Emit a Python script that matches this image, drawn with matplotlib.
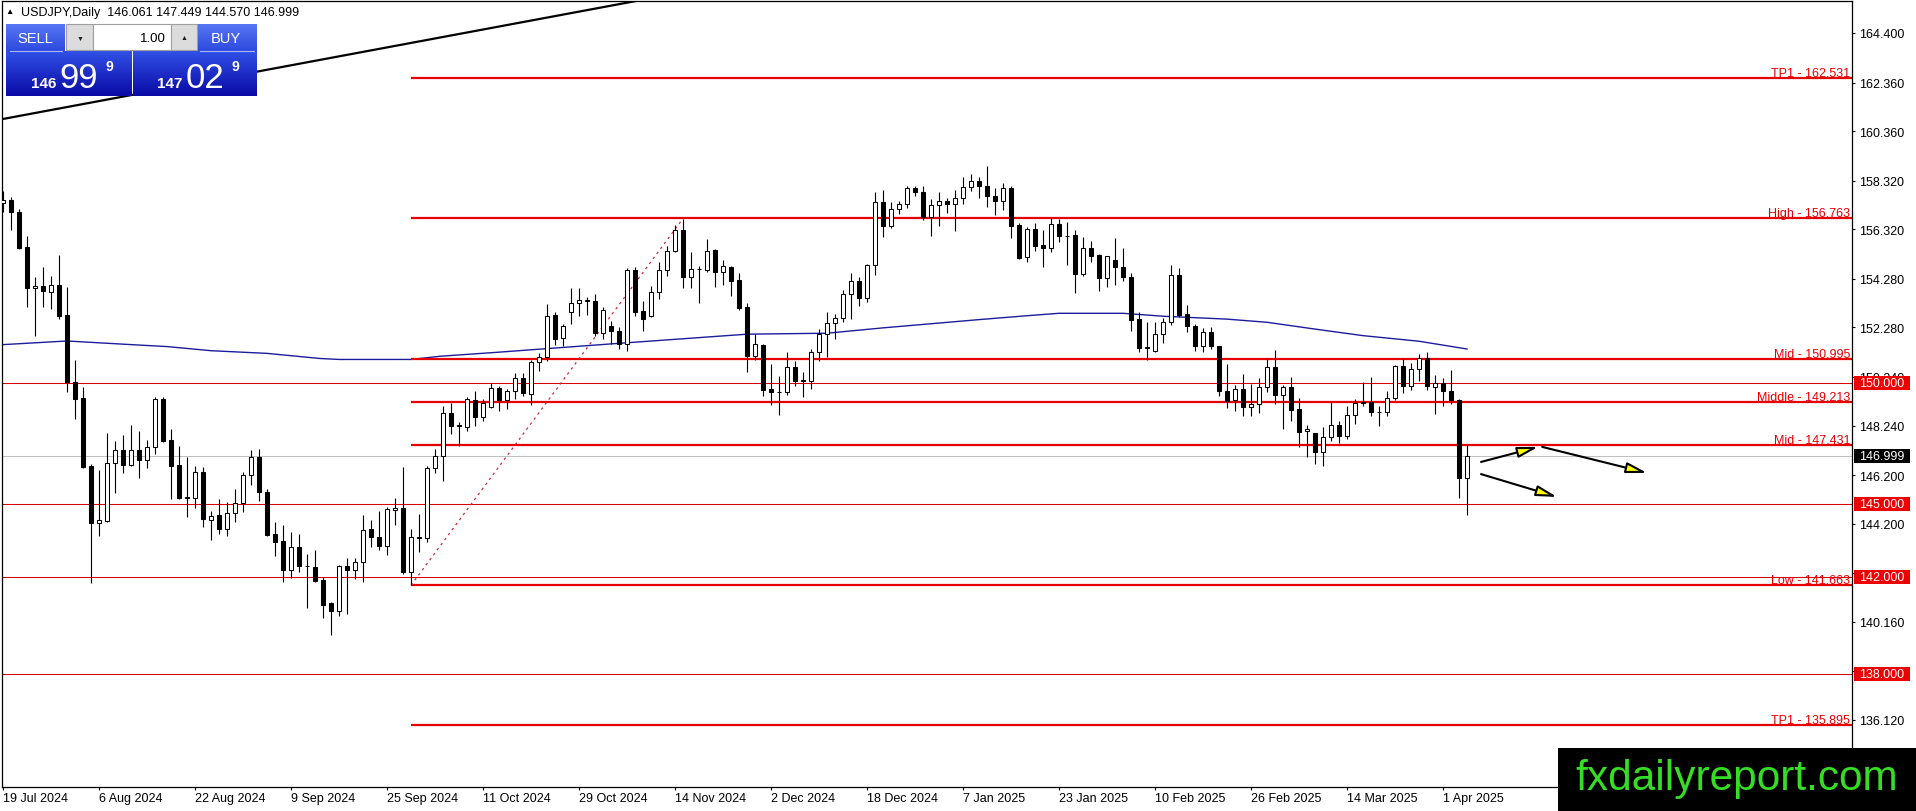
import numpy as np
import matplotlib
matplotlib.use('Agg')
import matplotlib.pyplot as plt
import matplotlib.colors as mcolors
from matplotlib.patches import Rectangle
from matplotlib.lines import Line2D

plt.rcParams['font.family'] = ['Liberation Sans', 'DejaVu Sans']

W, H = 1916, 812

# daily bars 19 Jul 2024 .. 4 Apr 2025
opens = [157.40, 157.52, 157.04, 155.59, 153.89, 153.98, 153.73, 154.03, 152.79, 150.03,
         149.37, 146.59, 144.22, 144.32, 146.69, 147.25, 146.63, 147.22, 146.83, 147.34,
         149.33, 147.64, 146.62, 145.28, 145.24, 146.31, 144.34, 144.55, 143.96, 144.63,
         145.04, 146.20, 146.93, 145.49, 143.77, 143.49, 142.30, 143.23, 142.45, 142.40,
         141.88, 140.92, 140.62, 142.44, 142.30, 142.63, 143.98, 143.64, 143.26, 144.78,
         144.83, 142.22, 143.62, 143.60, 146.48, 146.97, 148.74, 148.26, 148.17, 149.30,
         148.58, 149.02, 149.78, 149.30, 149.65, 150.21, 149.54, 150.84, 151.05, 152.79,
         151.84, 152.93, 153.27, 153.38, 153.35, 152.04, 152.33, 152.14, 151.60, 154.64,
         152.94, 152.74, 153.73, 154.64, 155.44, 156.29, 154.34, 154.68, 154.66, 155.47,
         154.55, 154.78, 154.23, 153.11, 151.12, 151.56, 149.74, 149.61, 149.61, 150.64,
         150.13, 150.06, 151.25, 152.00, 152.46, 152.65, 153.65, 154.18, 153.49, 154.85,
         157.43, 156.44, 157.15, 157.36, 158.01, 157.84, 156.84, 157.32, 157.50, 157.35,
         157.60, 158.05, 158.32, 158.11, 157.70, 157.50, 158.01, 156.50, 155.17, 156.33,
         155.67, 155.54, 156.54, 156.03, 156.08, 154.48, 155.55, 155.26, 154.30, 155.07,
         154.78, 154.37, 152.63, 151.46, 151.32, 152.00, 152.49, 154.44, 152.83, 152.35,
         151.50, 152.08, 151.50, 149.68, 149.30, 149.74, 149.02, 149.13, 149.81, 150.64,
         149.50, 149.81, 148.92, 148.00, 147.93, 147.16, 147.76, 148.26, 147.80, 148.67,
         149.16, 149.22, 148.80, 148.78, 149.36, 150.68, 149.88, 150.57, 151.00, 149.81,
         149.98, 149.65, 149.30, 146.061]
highs = [157.90, 157.64, 157.15, 156.03, 154.34, 154.77, 154.40, 155.26, 153.94, 150.94,
         149.81, 146.66, 146.41, 147.93, 147.60, 147.85, 148.26, 148.00, 147.64, 149.41,
         149.40, 148.10, 147.38, 146.93, 146.56, 146.52, 144.71, 145.22, 145.08, 145.63,
         146.31, 147.24, 147.27, 145.63, 144.26, 144.15, 143.84, 143.77, 142.95, 143.12,
         142.00, 140.99, 142.51, 142.77, 142.77, 144.56, 144.35, 144.71, 144.87, 145.26,
         146.52, 143.98, 144.60, 146.56, 147.27, 149.06, 149.16, 148.40, 149.41, 149.65,
         149.33, 149.99, 149.85, 149.75, 150.39, 150.39, 150.95, 151.23, 153.24, 152.90,
         152.41, 153.89, 153.89, 153.52, 153.65, 153.11, 152.56, 152.30, 154.71, 154.77,
         153.38, 154.00, 154.96, 155.64, 156.50, 156.74, 155.37, 154.82, 155.92, 155.50,
         155.05, 154.80, 154.51, 153.28, 152.00, 151.60, 150.77, 150.29, 151.28, 150.90,
         150.43, 151.39, 152.21, 152.90, 152.83, 153.83, 154.51, 154.35, 154.89, 157.84,
         157.95, 157.43, 157.50, 158.11, 158.11, 158.09, 157.57, 157.87, 157.60, 157.95,
         158.46, 158.60, 158.46, 158.94, 158.01, 158.22, 158.09, 156.58, 156.40, 156.57,
         156.29, 156.78, 156.74, 156.60, 156.30, 155.99, 155.83, 155.30, 155.23, 155.95,
         155.56, 154.51, 152.90, 152.49, 152.49, 152.65, 154.85, 154.72, 153.20, 152.42,
         152.24, 152.30, 151.53, 150.77, 149.91, 150.36, 149.95, 150.19, 150.98, 151.36,
         149.91, 150.23, 149.36, 148.26, 147.95, 148.17, 149.26, 148.41, 149.06, 149.33,
         150.02, 150.23, 149.03, 149.68, 150.75, 150.98, 150.80, 151.19, 151.25, 150.32,
         150.19, 150.54, 149.33, 147.449]
lows = [157.03, 156.30, 155.50, 153.13, 151.94, 153.13, 153.04, 152.62, 149.61, 148.50,
        146.48, 141.74, 143.68, 144.25, 145.46, 146.29, 146.59, 146.09, 146.50, 147.07,
        147.56, 145.20, 145.20, 144.49, 144.86, 144.08, 143.52, 143.77, 143.70, 144.26,
        144.69, 145.80, 145.15, 143.70, 142.88, 141.81, 141.98, 142.22, 140.74, 141.79,
        140.33, 139.63, 140.39, 140.48, 141.92, 141.79, 143.23, 143.13, 142.91, 144.15,
        142.13, 141.66, 143.02, 143.46, 146.30, 145.94, 147.89, 147.41, 148.03, 148.23,
        148.44, 148.95, 148.85, 148.92, 149.33, 149.47, 149.09, 150.50, 150.90, 151.56,
        151.50, 152.42, 152.76, 152.80, 151.94, 151.80, 151.60, 151.40, 151.32, 152.74,
        152.14, 152.70, 153.45, 154.38, 155.37, 153.89, 153.89, 153.28, 154.55, 153.93,
        154.03, 153.56, 153.01, 150.46, 150.95, 149.47, 149.09, 148.67, 149.50, 149.85,
        149.40, 149.74, 150.91, 151.05, 151.80, 152.49, 152.63, 153.17, 153.34, 154.44,
        155.99, 156.36, 156.95, 157.20, 157.70, 156.70, 156.03, 156.47, 157.00, 156.26,
        157.36, 157.91, 157.60, 157.25, 156.91, 157.11, 155.95, 155.10, 154.99, 155.44,
        154.78, 155.37, 155.78, 154.86, 153.70, 154.40, 154.96, 153.79, 153.93, 154.04,
        154.20, 152.14, 151.25, 150.95, 151.25, 151.64, 152.39, 152.70, 152.08, 151.32,
        151.28, 151.40, 149.44, 148.95, 148.85, 148.62, 148.65, 148.76, 149.60, 149.13,
        148.10, 148.44, 147.34, 146.93, 146.66, 146.56, 147.60, 147.52, 147.70, 148.30,
        149.05, 148.65, 148.21, 148.62, 149.30, 149.58, 149.70, 150.09, 149.72, 148.71,
        149.03, 149.13, 145.24, 144.570]
closes = [157.52, 157.02, 155.56, 153.89, 153.98, 153.77, 154.01, 152.76, 150.02, 149.33,
          146.52, 144.22, 144.35, 146.69, 147.25, 146.63, 147.22, 146.83, 147.34, 149.33,
          147.62, 146.59, 145.26, 145.24, 146.31, 144.38, 144.53, 143.96, 144.63, 145.04,
          146.20, 146.93, 145.49, 143.74, 143.46, 142.30, 143.23, 142.47, 142.47, 141.85,
          140.86, 140.62, 142.44, 142.30, 142.63, 143.94, 143.64, 143.26, 144.80, 144.83,
          142.22, 143.64, 143.63, 146.48, 146.97, 148.74, 148.21, 148.20, 149.33, 148.58,
          149.16, 149.78, 149.30, 149.65, 150.21, 149.57, 150.84, 151.05, 152.76, 151.80,
          152.33, 153.27, 153.41, 153.39, 152.04, 153.01, 152.14, 151.60, 154.64, 152.93,
          152.63, 153.73, 154.64, 155.44, 156.29, 154.37, 154.68, 154.69, 155.44, 154.55,
          154.80, 154.20, 153.07, 151.12, 151.60, 149.72, 149.61, 149.62, 150.64, 150.09,
          150.06, 151.25, 152.00, 152.46, 152.65, 153.65, 154.18, 153.49, 154.85, 157.43,
          156.44, 157.15, 157.36, 158.01, 157.84, 156.81, 157.32, 157.50, 157.35, 157.60,
          158.05, 158.32, 158.11, 157.70, 157.50, 158.01, 156.47, 155.14, 156.33, 155.64,
          155.54, 156.54, 156.06, 156.04, 154.48, 155.55, 155.23, 154.30, 155.21, 154.75,
          154.34, 152.60, 151.43, 151.42, 152.00, 152.51, 154.44, 152.80, 152.33, 151.50,
          152.08, 151.50, 149.68, 149.26, 149.74, 149.02, 149.13, 149.81, 150.64, 149.50,
          149.81, 148.89, 147.99, 148.10, 147.16, 147.76, 148.26, 147.80, 148.67, 149.16,
          149.22, 148.81, 148.81, 149.36, 150.68, 149.88, 150.57, 151.00, 149.88, 149.98,
          149.65, 149.30, 146.07, 146.999]

# moving average, read at a few bars
ma_idx = [0, 8, 15.5, 20.5, 26, 33, 39.6, 42, 51, 54.6, 62, 76, 93, 103, 110,
          122, 128, 132, 140, 145, 153, 158, 164, 170, 177, 183]
ma_val = [151.57, 151.72, 151.58, 151.49, 151.32, 151.21, 151.00, 150.96, 150.96,
          151.09, 151.26, 151.60, 152.00, 152.04, 152.26, 152.60, 152.76, 152.86,
          152.86, 152.74, 152.62, 152.49, 152.21, 151.94, 151.71, 151.39]

date_idx = list(range(0, 181, 12))
date_labels = ['19 Jul 2024', '6 Aug 2024', '22 Aug 2024', '9 Sep 2024', '25 Sep 2024',
               '11 Oct 2024', '29 Oct 2024', '14 Nov 2024', '2 Dec 2024', '18 Dec 2024',
               '7 Jan 2025', '23 Jan 2025', '10 Feb 2025', '26 Feb 2025', '14 Mar 2025',
               '1 Apr 2025']
price_ticks = [164.400, 162.360, 160.360, 158.320, 156.320, 154.280, 152.280, 150.240,
               148.240, 146.200, 144.200, 142.160, 140.160, 138.120, 136.120]

level_names = ['TP1', 'High', 'Mid', 'Middle', 'Mid', 'Low', 'TP1']
level_vals = [162.531, 156.763, 150.995, 149.213, 147.431, 141.663, 135.895]
level_start = 51
round_levels = [150.0, 145.0, 142.0, 138.0]
last_price = 146.999

fib_from = (51, 141.663)
fib_to = (85, 156.763)
trend_from = (0, 160.86)
trend_to = (79.5, 165.74)
arrows = [((184.75, 146.74), (191.9, 147.36)),
          ((192.4, 147.36), (205.5, 146.29)),
          ((184.75, 146.24), (194.25, 145.30))]

RED = '#e60000'

fig = plt.figure(figsize=(W / 100, H / 100), dpi=100)
ax = fig.add_axes([2 / W, 24 / H, 1850 / W, 786 / H])
ax.set_xlim(-0.125, 231.125)
ax.set_ylim(133.358, 165.717)

x = np.arange(len(closes))
o = np.array(opens)
c = np.array(closes)
up = c >= o
ax.vlines(x, lows, highs, color='black', lw=0.8, zorder=3)
ax.bar(x, np.abs(c - o), bottom=np.minimum(o, c), width=0.62,
       color=np.where(up, 'white', 'black'), edgecolor='black', linewidth=0.75, zorder=4)

ax.plot(ma_idx, ma_val, color='#1c1c9c', lw=1.0, zorder=2)

# level lines
for name, v in zip(level_names, level_vals):
    ax.hlines(v, level_start, 231.125, color=RED, lw=1.6, zorder=2)
    ax.annotate(f'{name} - {v:.3f}', xy=(1, v), xycoords=ax.get_yaxis_transform(),
                xytext=(-2, 2), textcoords='offset pixels', ha='right', va='baseline',
                color=RED, fontsize=9, zorder=6)
for v in round_levels:
    ax.axhline(v, color='#d80000', lw=0.75, zorder=1.8)
ax.axhline(last_price, color='#c0c0c0', lw=0.75, zorder=1.8)

ax.plot([fib_from[0], fib_to[0]], [fib_from[1], fib_to[1]], color='#cc2a44',
        lw=0.9, ls=(0, (2, 3)), zorder=2)
ax.plot([trend_from[0], trend_to[0]], [trend_from[1], trend_to[1]], color='black',
        lw=1.6, zorder=2)

for start, end in arrows:
    ax.annotate('', xy=end, xytext=start,
                arrowprops=dict(arrowstyle='-|>,head_length=1.25,head_width=0.32',
                                mutation_scale=10, fc='#ffff00', ec='black', lw=1.5,
                                shrinkA=0, shrinkB=0), zorder=6)

# axes styling
for s in ax.spines.values():
    s.set_color('black')
    s.set_linewidth(0.9)
ax.yaxis.tick_right()
ax.set_yticks(price_ticks)
ax.set_yticklabels([f'{p:.3f}' for p in price_ticks])
ax.tick_params(axis='y', direction='out', length=2.2, width=0.8, pad=2.9, labelsize=9)
ax.set_xticks(date_idx)
ax.set_xticklabels(date_labels)
ax.tick_params(axis='x', direction='out', length=2.2, width=0.8, pad=1.5, labelsize=9)
for lab in ax.get_xticklabels():
    lab.set_ha('left')

# price boxes on the scale
ytr = ax.get_yaxis_transform()
box_h = 14 / 24.29
for v, col in [(rv, '#ee0000') for rv in round_levels] + [(last_price, 'black')]:
    ax.add_patch(Rectangle((1852 / 1850 + 0.0001, v - box_h / 2), 56 / 1850, box_h,
                           transform=ytr, facecolor=col, edgecolor='none',
                           clip_on=False, zorder=7))
    ax.text(1857 / 1850, v, f'{v:.3f}', transform=ytr, ha='left', va='center',
            color='white', fontsize=9, clip_on=False, zorder=8)


# trading panel, top left (pixel coordinates)
def px_axes(x0, y0, x1, y1):
    a = fig.add_axes([x0 / W, 1 - y1 / H, (x1 - x0) / W, (y1 - y0) / H])
    a.set_axis_off()
    return a


def grad_box(x0, y0, x1, y1, top, bottom):
    a = px_axes(x0, y0, x1, y1)
    c0 = np.array(mcolors.to_rgb(top))
    c1 = np.array(mcolors.to_rgb(bottom))
    t = np.linspace(0, 1, 64)[:, None]
    a.imshow((c0 * (1 - t) + c1 * t)[:, None, :], aspect='auto',
             extent=(0, 1, 0, 1), interpolation='bilinear')
    return a


def ptext(xp, yp, s, **kw):
    fig.text(xp / W, 1 - yp / H, s, **kw)


grad_box(6, 25, 65, 52, '#5677f4', '#2e4ade')
grad_box(197, 25, 257, 52, '#5677f4', '#2e4ade')
grad_box(6, 52, 131, 97, '#3050e6', '#0a0aa6')
grad_box(133, 52, 257, 97, '#3050e6', '#0a0aa6')
for (bx0, bx1, colr) in [(66, 93, '#dcdcdc'), (93, 171, 'white'), (171, 197, '#dcdcdc')]:
    fig.add_artist(Rectangle((bx0 / W, 1 - 51 / H), (bx1 - bx0) / W, 26 / H,
                             transform=fig.transFigure, facecolor=colr,
                             edgecolor='#a0a0a0', lw=0.8))
for (lx0, lx1) in [(10, 62), (200, 254)]:
    fig.add_artist(Line2D([lx0 / W, lx1 / W], [1 - 52 / H, 1 - 52 / H],
                          transform=fig.transFigure, color='#a8b4f4', lw=0.8))

ptext(35, 39, 'SELL', color='white', fontsize=10.5, ha='center', va='center')
ptext(226, 39, 'BUY', color='white', fontsize=10.5, ha='center', va='center')
ptext(80, 39, '▼', color='#202020', fontsize=5, ha='center', va='center')
ptext(184, 39, '▲', color='#202020', fontsize=5, ha='center', va='center')
ptext(166, 39, '1.00', color='black', fontsize=9.5, ha='right', va='center')
ptext(31, 88, '146', color='white', fontsize=11, fontweight='bold', ha='left', va='baseline')
ptext(59, 88, '99', color='white', fontsize=25, ha='left', va='baseline')
ptext(105, 71, '9', color='white', fontsize=10, fontweight='bold', ha='left', va='baseline')
ptext(157, 88, '147', color='white', fontsize=11, fontweight='bold', ha='left', va='baseline')
ptext(186, 88, '02', color='white', fontsize=25, ha='left', va='baseline')
ptext(232, 71, '9', color='white', fontsize=10, fontweight='bold', ha='left', va='baseline')

ptext(5, 13, '▲', color='black', fontsize=6, ha='left', va='center')
ptext(21, 13, 'USDJPY,Daily  146.061 147.449 144.570 146.999', color='black',
      fontsize=9, ha='left', va='center')

# watermark
fig.add_artist(Rectangle((1558 / W, 0), 358 / W, 63 / H, transform=fig.transFigure,
                         facecolor='black', edgecolor='none', zorder=5))
ptext(1737, 790, 'fxdailyreport.com', color='#35dd25', fontsize=30.5,
      ha='center', va='baseline', zorder=6)

fig.savefig('out.png', dpi=100)
